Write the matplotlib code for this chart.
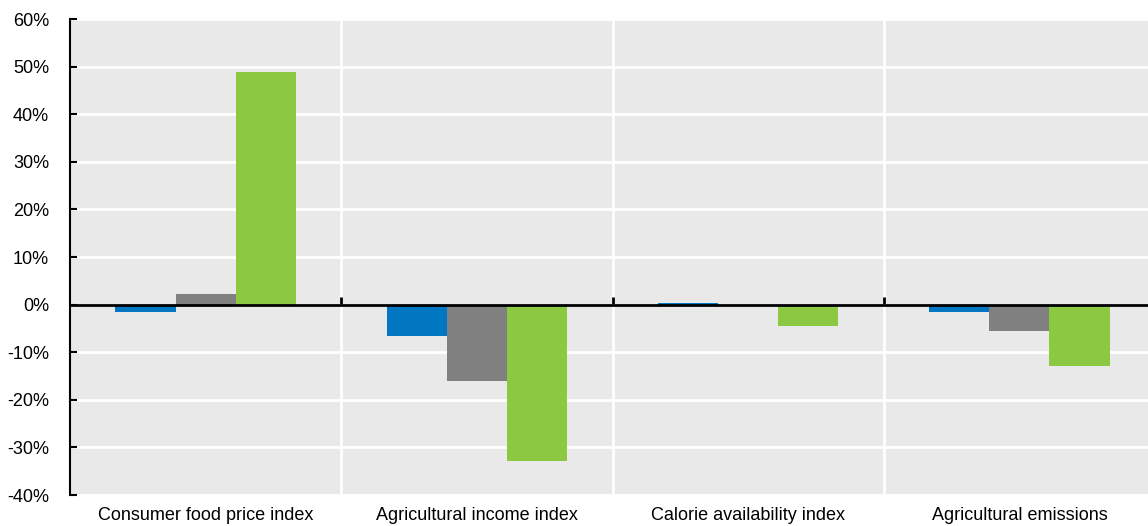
import matplotlib
matplotlib.use("Agg")
import matplotlib.pyplot as plt
import numpy as np
from matplotlib.ticker import FuncFormatter

plt.rcParams['font.family'] = ['Liberation Sans', 'DejaVu Sans']

categories = ["Consumer food price index", "Agricultural income index",
              "Calorie availability index", "Agricultural emissions"]
series_a = [-1.5, -6.7, 0.4, -1.6]
series_b = [2.3, -16.1, 0.0, -5.6]
series_c = [48.9, -32.8, -4.5, -13.0]
colors = ["#0077c0", "#808080", "#8cc841"]
y_ticks = [-40, -30, -20, -10, 0, 10, 20, 30, 40, 50, 60]

fig = plt.figure(figsize=(11.48, 5.26), dpi=100)
ax = fig.add_axes([70/1148, 31/526, (1155-70)/1148, (495-19)/526])
ax.set_facecolor("#e9e9e9")

x = np.arange(len(categories))
w = 0.222
for i, (vals, c) in enumerate(zip([series_a, series_b, series_c], colors)):
    ax.bar(x + (i - 1) * w, vals, width=w, color=c, zorder=3)

ax.set_xlim(-0.5, len(categories) - 0.5)
ax.set_ylim(-40, 60)
ax.set_yticks(y_ticks)
ax.yaxis.set_major_formatter(FuncFormatter(lambda v, p: f"{int(v)}%"))
ax.tick_params(axis='y', direction='in', length=5, width=1.5, color='black',
               labelsize=13, pad=15)
ax.grid(axis='y', color='white', linewidth=2, zorder=0)

bounds = np.arange(len(categories) - 1) + 0.5
ax.set_xticks(bounds)
ax.set_xticklabels([])
ax.tick_params(axis='x', direction='in', length=6, width=2, color='black')
ax.grid(axis='x', color='white', linewidth=2, zorder=0)
ax.set_axisbelow(True)

for s in ['top', 'right']:
    ax.spines[s].set_visible(False)
ax.spines['left'].set_linewidth(1.5)
ax.spines['bottom'].set_position(('data', 0))
ax.spines['bottom'].set_linewidth(2)
ax.spines['bottom'].set_zorder(5)

sec = ax.secondary_xaxis('bottom')
sec.set_xticks(x)
sec.set_xticklabels(categories)
sec.tick_params(length=0, labelsize=13, pad=9)
sec.spines['bottom'].set_visible(False)

fig.savefig("out.png", dpi=100)
